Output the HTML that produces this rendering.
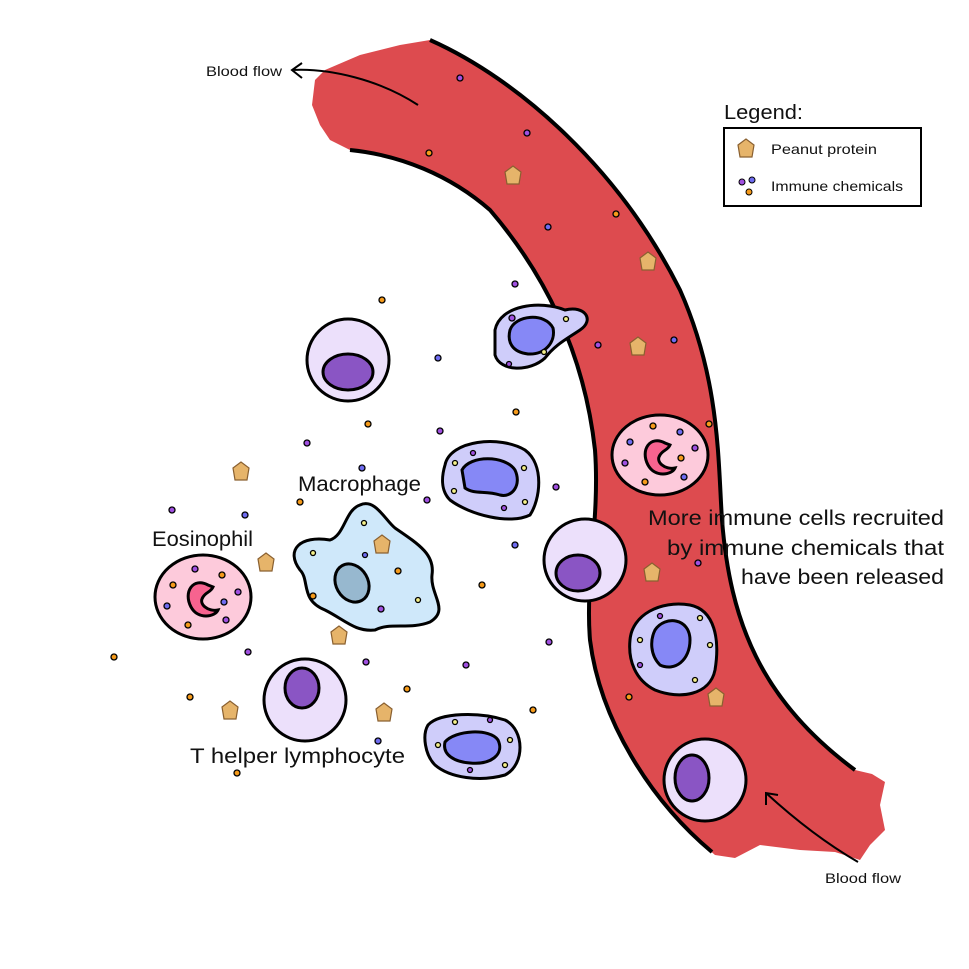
<!DOCTYPE html>
<html><head><meta charset="utf-8"><style>html,body{margin:0;padding:0;background:#fff}svg{display:block}text{font-family:"Liberation Sans",sans-serif;fill:#111}</style></head><body>
<svg width="969" height="969" viewBox="0 0 969 969" xmlns="http://www.w3.org/2000/svg">
<defs>
<g id="lym"><circle r="41" fill="#ece0fb" stroke="#000" stroke-width="3"/></g>
<g id="pea"><path d="M-8,-4 L0,-10 L8,-4 L6,8 L-6,8 Z" fill="#e6b46a" stroke="#8a6030" stroke-width="1.2"/></g>
</defs>
<path d="M315,80 L325,70 L360,55 L400,45 L430,40 C520,80 620,170 680,290 C720,380 718,460 722,520 C730,620 760,700 855,770 L872,774 L885,782 L880,805 L885,830 L870,845 L860,860 L835,852 L800,850 L760,845 L735,858 L715,855 C650,800 600,720 590,640 C585,580 600,520 595,450 C585,360 550,280 490,210 C450,175 400,155 350,150 L330,140 L320,125 L312,105 Z" fill="#dd4b4f"/>
<path d="M430,40 C520,80 620,170 680,290 C720,380 718,460 722,520 C730,620 760,700 855,770" fill="none" stroke="#000" stroke-width="4"/>
<path d="M350,150 C400,155 450,175 490,210 C550,280 585,360 595,450 C600,520 585,580 590,640 C600,720 650,800 712,852" fill="none" stroke="#000" stroke-width="4"/>
<path d="M418,105 C380,80 330,68 292,70 M302,63 L292,70 L302,78" fill="none" stroke="#000" stroke-width="2"/>
<path d="M858,862 C820,840 790,815 766,793 M766,805 L766,793 L778,795" fill="none" stroke="#000" stroke-width="2"/>
<text x="206" y="76" font-size="14" textLength="76" lengthAdjust="spacingAndGlyphs">Blood flow</text>
<text x="825" y="883" font-size="14" textLength="76" lengthAdjust="spacingAndGlyphs">Blood flow</text>
<text x="724" y="119" font-size="20" textLength="79" lengthAdjust="spacingAndGlyphs">Legend:</text>
<rect x="724" y="128" width="197" height="78" fill="#fff" stroke="#000" stroke-width="2"/>
<use href="#pea" x="746" y="149"/>
<text x="771" y="154" font-size="14" textLength="106" lengthAdjust="spacingAndGlyphs">Peanut protein</text>
<circle cx="742" cy="182" r="3" fill="#a050e0" stroke="#000"/><circle cx="752" cy="180" r="3" fill="#6f6cf0" stroke="#000"/><circle cx="749" cy="192" r="3" fill="#f59a1a" stroke="#000"/>
<text x="771" y="191" font-size="14" textLength="132" lengthAdjust="spacingAndGlyphs">Immune chemicals</text>
<use href="#lym" x="348" y="360"/><ellipse cx="348" cy="372" rx="25" ry="18" fill="#8a55c4" stroke="#000" stroke-width="3"/>
<use href="#lym" x="585" y="560"/><ellipse cx="578" cy="573" rx="22" ry="18" fill="#8a55c4" stroke="#000" stroke-width="3"/>
<use href="#lym" x="705" y="780"/><ellipse cx="692" cy="778" rx="17" ry="23" fill="#8a55c4" stroke="#000" stroke-width="3"/>
<use href="#lym" x="305" y="700"/><ellipse cx="302" cy="688" rx="17" ry="20" fill="#8a55c4" stroke="#000" stroke-width="3"/>
<path d="M495,330 C500,305 540,300 565,310 C585,305 595,320 580,330 C565,340 555,345 545,358 C530,372 500,372 495,355 Z" fill="#cfcdfa" stroke="#000" stroke-width="3"/>
<path d="M510,330 C515,315 545,312 553,328 C556,342 545,355 528,354 C512,352 507,342 510,330 Z" fill="#8688f6" stroke="#000" stroke-width="3"/>
<path d="M445,465 C450,440 500,435 525,450 C545,465 540,500 530,515 C510,525 470,515 450,500 C440,490 442,475 445,465 Z" fill="#cfcdfa" stroke="#000" stroke-width="3"/>
<path d="M462,470 C470,455 505,455 515,470 C522,485 512,498 500,495 C485,490 475,495 465,488 Z" fill="#8688f6" stroke="#000" stroke-width="3"/>
<path d="M630,640 C632,615 660,600 690,605 C715,610 720,640 715,670 C710,695 680,700 655,690 C635,680 628,660 630,640 Z" fill="#cfcdfa" stroke="#000" stroke-width="3"/>
<path d="M655,630 C665,615 690,618 690,640 C690,660 675,672 660,665 C650,655 650,640 655,630 Z" fill="#8688f6" stroke="#000" stroke-width="3"/>
<path d="M428,725 C440,712 480,712 505,720 C525,730 525,765 505,775 C480,782 450,778 435,765 C425,755 422,735 428,725 Z" fill="#cfcdfa" stroke="#000" stroke-width="3"/>
<path d="M445,742 C455,730 490,728 498,740 C505,755 490,765 470,763 C455,762 442,755 445,742 Z" fill="#8688f6" stroke="#000" stroke-width="3"/>
<ellipse cx="660" cy="455" rx="48" ry="40" fill="#fdcadb" stroke="#000" stroke-width="3"/>
<path d="M665,443 C650,435 640,450 648,465 C655,478 672,475 675,468 C665,470 655,462 660,455 C663,450 668,450 670,445 Z" fill="#f7638f" stroke="#000" stroke-width="3"/>
<ellipse cx="203" cy="597" rx="48" ry="42" fill="#fdcadb" stroke="#000" stroke-width="3"/>
<path d="M208,585 C193,577 183,592 191,607 C198,620 215,617 218,610 C208,612 198,604 203,597 C206,592 211,592 213,587 Z" fill="#f7638f" stroke="#000" stroke-width="3"/>
<path d="M360,505 C375,498 385,520 395,528 C420,545 435,555 432,575 C430,595 450,610 430,622 C410,630 390,622 375,630 C355,632 345,620 325,610 C300,600 310,580 300,570 C285,550 300,535 330,540 C345,535 345,510 360,505 Z" fill="#cfe8fa" stroke="#000" stroke-width="3"/>
<ellipse cx="352" cy="583" rx="16" ry="20" transform="rotate(-30 352 583)" fill="#97b8cf" stroke="#000" stroke-width="3"/>
<use href="#pea" x="513" y="176"/><use href="#pea" x="648" y="262"/><use href="#pea" x="638" y="347"/><use href="#pea" x="652" y="573"/><use href="#pea" x="716" y="698"/>
<use href="#pea" x="241" y="472"/><use href="#pea" x="266" y="563"/><use href="#pea" x="382" y="545"/><use href="#pea" x="339" y="636"/><use href="#pea" x="230" y="711"/><use href="#pea" x="384" y="713"/>
<g stroke="#000" stroke-width="1.3">
<circle cx="460" cy="78" r="3" fill="#a050e0"/><circle cx="527" cy="133" r="3" fill="#a050e0"/><circle cx="429" cy="153" r="3" fill="#f59a1a"/><circle cx="616" cy="214" r="3" fill="#f59a1a"/><circle cx="548" cy="227" r="3" fill="#6f6cf0"/><circle cx="515" cy="284" r="3" fill="#a050e0"/><circle cx="598" cy="345" r="3" fill="#a050e0"/><circle cx="674" cy="340" r="3" fill="#6f6cf0"/><circle cx="382" cy="300" r="3" fill="#f59a1a"/><circle cx="438" cy="358" r="3" fill="#6f6cf0"/><circle cx="516" cy="412" r="3" fill="#f59a1a"/><circle cx="368" cy="424" r="3" fill="#f59a1a"/><circle cx="440" cy="431" r="3" fill="#a050e0"/><circle cx="307" cy="443" r="3" fill="#a050e0"/><circle cx="362" cy="468" r="3" fill="#6f6cf0"/><circle cx="709" cy="424" r="3" fill="#f59a1a"/><circle cx="556" cy="487" r="3" fill="#a050e0"/><circle cx="427" cy="500" r="3" fill="#a050e0"/><circle cx="300" cy="502" r="3" fill="#f59a1a"/><circle cx="172" cy="510" r="3" fill="#a050e0"/><circle cx="245" cy="515" r="3" fill="#6f6cf0"/><circle cx="515" cy="545" r="3" fill="#6f6cf0"/><circle cx="698" cy="563" r="3" fill="#a050e0"/><circle cx="482" cy="585" r="3" fill="#f59a1a"/><circle cx="549" cy="642" r="3" fill="#a050e0"/><circle cx="248" cy="652" r="3" fill="#a050e0"/><circle cx="366" cy="662" r="3" fill="#a050e0"/><circle cx="466" cy="665" r="3" fill="#a050e0"/><circle cx="114" cy="657" r="3" fill="#f59a1a"/><circle cx="407" cy="689" r="3" fill="#f59a1a"/><circle cx="190" cy="697" r="3" fill="#f59a1a"/><circle cx="533" cy="710" r="3" fill="#f59a1a"/><circle cx="629" cy="697" r="3" fill="#f59a1a"/><circle cx="378" cy="741" r="3" fill="#6f6cf0"/><circle cx="237" cy="773" r="3" fill="#f59a1a"/>
<circle cx="512" cy="318" r="3" fill="#a050e0"/><circle cx="566" cy="319" r="2.5" fill="#f5f08a"/><circle cx="544" cy="352" r="2.5" fill="#f5f08a"/><circle cx="509" cy="364" r="2.5" fill="#a050e0"/>
<circle cx="653" cy="426" r="3" fill="#f59a1a"/><circle cx="680" cy="432" r="3" fill="#6f6cf0"/><circle cx="630" cy="442" r="3" fill="#6f6cf0"/><circle cx="695" cy="448" r="3" fill="#a050e0"/><circle cx="625" cy="463" r="3" fill="#a050e0"/><circle cx="681" cy="458" r="3" fill="#f59a1a"/><circle cx="645" cy="482" r="3" fill="#f59a1a"/><circle cx="684" cy="477" r="3" fill="#6f6cf0"/>
<circle cx="195" cy="569" r="3" fill="#a050e0"/><circle cx="222" cy="575" r="3" fill="#f59a1a"/><circle cx="173" cy="585" r="3" fill="#f59a1a"/><circle cx="238" cy="592" r="3" fill="#a050e0"/><circle cx="224" cy="602" r="3" fill="#6f6cf0"/><circle cx="167" cy="606" r="3" fill="#6f6cf0"/><circle cx="226" cy="620" r="3" fill="#a050e0"/><circle cx="188" cy="625" r="3" fill="#f59a1a"/>
<circle cx="364" cy="523" r="2.5" fill="#f5f08a"/><circle cx="313" cy="553" r="2.5" fill="#f5f08a"/><circle cx="365" cy="555" r="2.5" fill="#6f6cf0"/><circle cx="398" cy="571" r="3" fill="#f59a1a"/><circle cx="313" cy="596" r="3" fill="#f59a1a"/><circle cx="418" cy="600" r="2.5" fill="#f5f08a"/><circle cx="381" cy="609" r="3" fill="#a050e0"/>
<circle cx="473" cy="453" r="2.5" fill="#a050e0"/><circle cx="455" cy="463" r="2.5" fill="#f5f08a"/><circle cx="524" cy="468" r="2.5" fill="#f5f08a"/><circle cx="454" cy="491" r="2.5" fill="#f5f08a"/><circle cx="525" cy="502" r="2.5" fill="#f5f08a"/><circle cx="504" cy="508" r="2.5" fill="#a050e0"/>
<circle cx="660" cy="616" r="2.5" fill="#a050e0"/><circle cx="700" cy="618" r="2.5" fill="#f5f08a"/><circle cx="640" cy="640" r="2.5" fill="#f5f08a"/><circle cx="710" cy="645" r="2.5" fill="#f5f08a"/><circle cx="640" cy="665" r="2.5" fill="#a050e0"/><circle cx="695" cy="680" r="2.5" fill="#f5f08a"/>
<circle cx="455" cy="722" r="2.5" fill="#f5f08a"/><circle cx="490" cy="720" r="2.5" fill="#a050e0"/><circle cx="510" cy="740" r="2.5" fill="#f5f08a"/><circle cx="438" cy="745" r="2.5" fill="#f5f08a"/><circle cx="470" cy="770" r="2.5" fill="#a050e0"/><circle cx="505" cy="765" r="2.5" fill="#f5f08a"/>
</g>
<text x="298" y="491" font-size="21" textLength="123" lengthAdjust="spacingAndGlyphs">Macrophage</text>
<text x="152" y="546" font-size="21" textLength="101" lengthAdjust="spacingAndGlyphs">Eosinophil</text>
<text x="190" y="763" font-size="21" textLength="215" lengthAdjust="spacingAndGlyphs">T helper lymphocyte</text>
<text x="648" y="525" font-size="21" textLength="296" lengthAdjust="spacingAndGlyphs">More immune cells recruited</text>
<text x="667" y="555" font-size="21" textLength="277" lengthAdjust="spacingAndGlyphs">by immune chemicals that</text>
<text x="741" y="584" font-size="21" textLength="203" lengthAdjust="spacingAndGlyphs">have been released</text>
</svg>
</body></html>
